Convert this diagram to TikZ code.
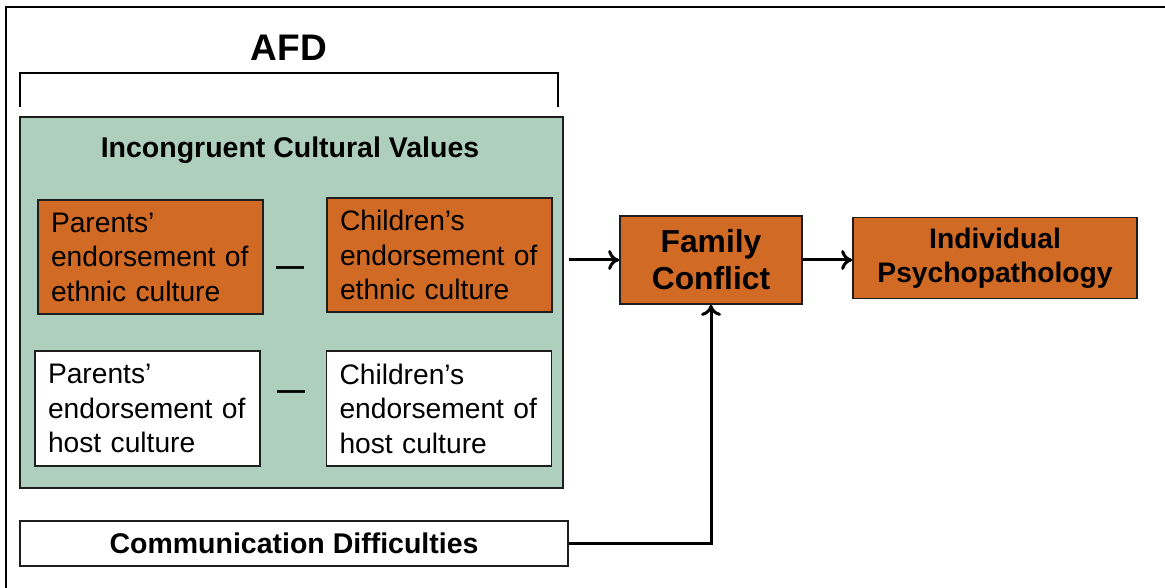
\documentclass[tikz,border=0pt]{standalone}
\usepackage{fontspec}
\setmainfont{Liberation Sans}
\usetikzlibrary{calc, arrows.meta}
\definecolor{sage}{RGB}{174,207,190}
\definecolor{rust}{RGB}{208,106,36}
\definecolor{edge}{RGB}{30,30,30}
\tikzstyle{bx}=[draw=edge, line width=1.8pt, inner xsep=13pt, inner ysep=0pt, text width=199pt, align=left, font=\fontsize{28.2}{34.5}\selectfont]
\tikzstyle{ob}=[bx, fill=rust, minimum height=114pt]
\tikzstyle{wb}=[bx, fill=white, minimum height=115pt]
\tikzstyle{hd}=[font=\bfseries\fontsize{28.5}{34}\selectfont]
\tikzstyle{dsh}=[font=\bfseries\fontsize{28}{30}\selectfont]
\tikzstyle{arr}=[line width=3pt, -{To[length=11pt, width=20pt]}]

\begin{document}
\begin{tikzpicture}[x=1pt, y=-1pt]
\useasboundingbox[fill=white] (0,0) rectangle (1165,588);
\draw[line width=2.2pt] (6,588) -- (6,7) -- (1165,7);
% AFD bracket
\node at (289,48)[font=\bfseries\fontsize{37}{40}\selectfont](afd){AFD};
\draw[line width=2.8pt] (20,107) -- (20,73) -- (558,73) -- (558,107);
% incongruent values
\node at (291.5,302.5)[draw=edge, line width=1.8pt, fill=sage, minimum width=543pt, minimum height=371pt](icv){};
\node at (290,150)[hd](icvt){Incongruent Cultural Values};
\node at (150.5,257)[ob](pe){Parents’\\endorsement of\\ethnic culture};
\node at (439.5,255)[ob](ce){Children’s\\endorsement of\\ethnic culture};
\node at (147.5,408.5)[wb](ph){Parents’\\endorsement of\\host culture};
\node at (439,408.5)[wb](ch){Children’s\\endorsement of\\host culture};
\node at (290,271)[dsh](d1){—};
\node at (291,395)[dsh](d2){—};
% outcomes
\node at (711,260)[draw=edge, line width=1.8pt, fill=rust, minimum width=182pt, minimum height=88pt, align=center, font=\bfseries\fontsize{31.8}{37}\selectfont](fc){Family\\Conflict};
\node at (995,258)[draw=edge, line width=1.8pt, fill=rust, minimum width=284pt, minimum height=81pt, align=center, font=\bfseries\fontsize{28.2}{34}\selectfont](ip){Individual\\Psychopathology};
\node at (294,543.5)[draw=edge, line width=1.8pt, fill=white, minimum width=548pt, minimum height=45pt, hd](cd){Communication Difficulties};
\draw[arr] ([xshift=5pt]icv.east |- fc.west) -- (fc.west);
\draw[arr] (fc.east) -- (fc.east -| ip.west);
\draw[arr] (cd.east) -| (fc.south);
\end{tikzpicture}
\end{document}
